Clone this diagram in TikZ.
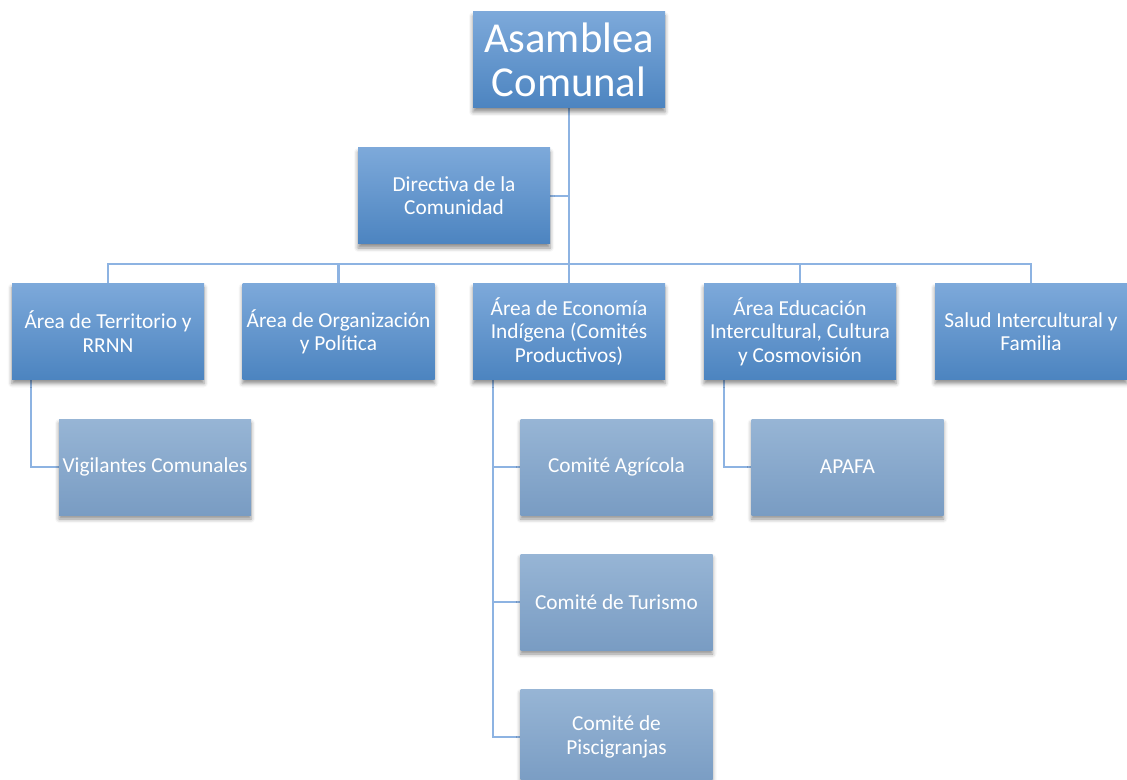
\documentclass[tikz,border=0pt]{standalone}
\usepackage{fontspec}
\setmainfont{Carlito}
\usetikzlibrary{shadows.blur}
\pgfdeclarelayer{bg}
\pgfsetlayers{bg,main}
\definecolor{topA}{HTML}{7DA9DA}
\definecolor{botA}{HTML}{4C84C0}
\definecolor{topB}{HTML}{97B5D5}
\definecolor{botB}{HTML}{799CC3}
\definecolor{linea}{HTML}{8DB3E2}
\tikzset{
    caja/.style={rectangle, minimum width=144pt, minimum height=72pt, inner sep=2pt,
        align=center, text=white, font=\fontsize{16}{17.5}\selectfont,
        top color=topA, bottom color=botA,
        blur shadow={shadow xshift=0pt, shadow yshift=-3pt, shadow blur radius=3pt, shadow opacity=45}},
    subcaja/.style={caja, top color=topB, bottom color=botB},
    raiz/.style={caja, font=\fontsize{32}{33}\selectfont},
    conn/.style={draw=linea, line width=2.2pt}
}

\begin{document}
\begin{tikzpicture}[x=0.75pt, y=-0.75pt]
        \useasboundingbox (0,0) rectangle (1127,780);
        \node[raiz] (asam) at (569, 60) {Asamblea\\Comunal};
        \node[caja] (dir) at (454, 196) {Directiva de la\\Comunidad};
        \coordinate (bar) at (569, 264);
        \node[caja] (terr) at (108, 331.5) {Área de Territorio y\\RRNN};
        \node[caja] (org) at (338.5, 331.5) {Área de Organización\\y Política};
        \node[caja] (eco) at (569, 331.5) {Área de Economía\\Indígena (Comités\\Productivos)};
        \node[caja] (edu) at (800, 331.5) {Área Educación\\Intercultural, Cultura\\y Cosmovisión};
        \node[caja] (salud) at (1031, 331.5) {Salud Intercultural y\\Familia};
        \node[subcaja] (vig) at (155, 467) {Vigilantes Comunales};
        \node[subcaja] (agri) at (616.5, 467) {Comité Agrícola};
        \node[subcaja] (tur) at (616.5, 602) {Comité de Turismo};
        \node[subcaja] (pisc) at (616.5, 737) {Comité de\\Piscigranjas};
        \node[subcaja] (apafa) at (847.5, 467) {APAFA};
        \coordinate (dTerr) at (31, 379);
        \coordinate (dEco) at (493, 379);
        \coordinate (dEdu) at (724, 379);
        \begin{pgfonlayer}{bg}
                \draw[conn] (asam) -- (bar);
                \draw[conn] (dir.east) -- (dir.east -| bar);
                \draw[conn] (terr.north) |- (bar) -| (salud.north);
                \draw[conn] (org.north) -- (org.north |- bar);
                \draw[conn] (eco.north) -- (bar);
                \draw[conn] (edu.north) -- (edu.north |- bar);
                \draw[conn] (dTerr) |- (vig.west);
                \draw[conn] (dEco) |- (pisc.west);
                \draw[conn] (dEco |- agri.west) -- (agri.west);
                \draw[conn] (dEco |- tur.west) -- (tur.west);
                \draw[conn] (dEdu) |- (apafa.west);
        \end{pgfonlayer}
\end{tikzpicture}
\end{document}
